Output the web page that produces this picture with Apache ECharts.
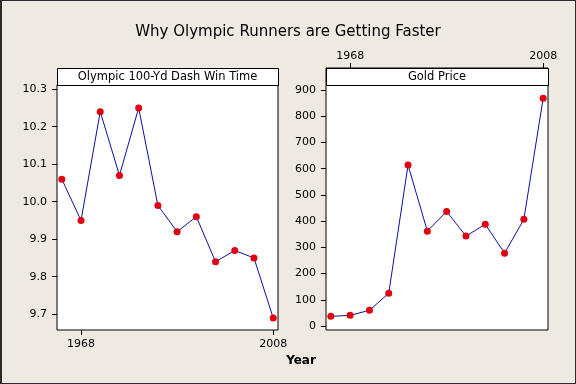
<!DOCTYPE html>
<html>
<head>
<meta charset="utf-8">
<script src="https://cdn.jsdelivr.net/npm/echarts@6/dist/echarts.min.js"></script>
<style>
html,body{margin:0;padding:0;background:#EEEAE2;}
#wrap{position:relative;width:576px;height:384px;}
#chart{position:absolute;left:0;top:0;width:576px;height:384px;}
#frame{position:absolute;left:0;top:0;width:576px;height:384px;box-sizing:border-box;border:1px solid #2a2a2a;border-left-width:2px;pointer-events:none;}
</style>
</head>
<body>
<div id="wrap"><div id="chart"></div><div id="frame"></div></div>
<script>
// ---- data ----
const years = [1964, 1968, 1972, 1976, 1980, 1984, 1988, 1992, 1996, 2000, 2004, 2008];
const dashTimes = [10.06, 9.95, 10.24, 10.07, 10.25, 9.99, 9.92, 9.96, 9.84, 9.87, 9.85, 9.69];
const goldPrice = [37, 41, 60, 125, 614, 362, 437, 343, 388, 278, 407, 869];
const xTickYears = [1968, 2008];
const dashTicks = [9.7, 9.8, 9.9, 10.0, 10.1, 10.2, 10.3];
const goldTicks = [0, 100, 200, 300, 400, 500, 600, 700, 800, 900];
const title = 'Why Olympic Runners are Getting Faster';
const panelTitles = ['Olympic 100-Yd Dash Win Time', 'Gold Price'];
const xName = 'Year';

const FONT = '"DejaVu Sans", Verdana, sans-serif';
const chart = echarts.init(document.getElementById('chart'), null, {renderer: 'canvas'});

const headerH = 17;
// left grid: data area below header; right grid: full box including header area
const grids = [
  {left: 57, top: 85, width: 221, height: 245},
  {left: 326, top: 68, width: 222, height: 262}
];
const headers = [
  {left: 57, top: 68, width: 221},
  {left: 326, top: 68, width: 222}
];

const tickLabel = {color: '#000', fontFamily: FONT, fontSize: 11};

const option = {
  backgroundColor: '#EEEAE2',
  animation: false,
  title: {
    text: title, left: 'center', top: 20,
    textStyle: {fontFamily: FONT, fontSize: 15, fontWeight: 'normal', color: '#000'}
  },
  grid: grids.map(g => Object.assign({show: true, backgroundColor: '#fff', borderColor: '#000', borderWidth: 1}, g)),
  xAxis: [
    {
      type: 'value', gridIndex: 0, min: 1963, max: 2009, position: 'bottom',
      axisLine: {show: false, onZero: false}, splitLine: {show: false},
      axisTick: {show: true, length: 5, lineStyle: {color: '#000'}, customValues: xTickYears},
      axisLabel: Object.assign({margin: 9, customValues: xTickYears, formatter: v => String(v)}, tickLabel)
    },
    {
      type: 'value', gridIndex: 1, min: 1963, max: 2009, position: 'top',
      axisLine: {show: false, onZero: false}, splitLine: {show: false},
      axisTick: {show: true, length: 5, lineStyle: {color: '#000'}, customValues: xTickYears},
      axisLabel: Object.assign({margin: 6, customValues: xTickYears, formatter: v => String(v)}, tickLabel)
    }
  ],
  yAxis: [
    {
      type: 'value', gridIndex: 0, min: 9.658, max: 10.311,
      axisLine: {show: false, onZero: false}, splitLine: {show: false},
      axisTick: {show: true, length: 5, lineStyle: {color: '#000'}, customValues: dashTicks},
      axisLabel: Object.assign({margin: 10, customValues: dashTicks, formatter: v => v.toFixed(1)}, tickLabel)
    },
    {
      type: 'value', gridIndex: 1, min: -15, max: 984,
      axisLine: {show: false, onZero: false}, splitLine: {show: false},
      axisTick: {show: true, length: 5, lineStyle: {color: '#000'}, customValues: goldTicks},
      axisLabel: Object.assign({margin: 10, customValues: goldTicks, formatter: v => String(Math.round(v))}, tickLabel)
    }
  ],
  series: [
    {
      type: 'line', xAxisIndex: 0, yAxisIndex: 0,
      data: years.map((y, i) => [y, dashTimes[i]]),
      symbol: 'circle', symbolSize: 7,
      lineStyle: {color: '#0a10a0', width: 1},
      itemStyle: {color: '#e00010', borderWidth: 0}
    },
    {
      type: 'line', xAxisIndex: 1, yAxisIndex: 1,
      data: years.map((y, i) => [y, goldPrice[i]]),
      symbol: 'circle', symbolSize: 7,
      lineStyle: {color: '#0a10a0', width: 1},
      itemStyle: {color: '#e00010', borderWidth: 0}
    }
  ],
  graphic: headers.map((g, i) => ({
    type: 'group',
    children: [
      {type: 'rect', shape: {x: g.left + 0.5, y: g.top + 0.5, width: g.width, height: headerH},
        style: {fill: '#fff', stroke: '#000', lineWidth: 1}},
      {type: 'text', x: g.left + g.width / 2, y: g.top + headerH / 2 + 0.5,
        style: {text: panelTitles[i], fill: '#000', font: '11.5px ' + FONT, align: 'center', verticalAlign: 'middle'}}
    ]
  })).concat([
    {type: 'text', x: 301, y: 361,
      style: {text: xName, fill: '#000', font: 'bold 12px ' + FONT, align: 'center', verticalAlign: 'middle'}}
  ])
};
chart.setOption(option);
</script>
</body>
</html>
